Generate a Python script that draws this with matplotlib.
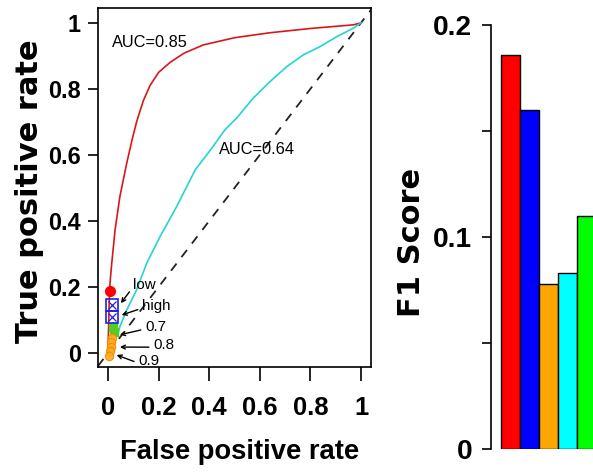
import matplotlib
matplotlib.use('Agg')
import matplotlib.pyplot as plt
from matplotlib import font_manager

# ---------------- data ----------------
roc_ticks = [0, 0.2, 0.4, 0.6, 0.8, 1.0]
roc_tick_labels = ["0", "0.2", "0.4", "0.6", "0.8", "1"]

fpr_a = [0, 0.003, 0.006, 0.010, 0.015, 0.028, 0.047, 0.074, 0.095, 0.113, 0.14,
         0.166, 0.20, 0.245, 0.30, 0.376, 0.50, 0.64, 0.80, 0.97, 1.0]
tpr_a = [0, 0.10, 0.19, 0.23, 0.273, 0.373, 0.474, 0.575, 0.645, 0.70, 0.765,
         0.81, 0.85, 0.88, 0.908, 0.933, 0.955, 0.97, 0.983, 0.994, 1.0]
auc_a = "AUC=0.85"

fpr_b = [0.04, 0.047, 0.074, 0.113, 0.153, 0.206, 0.271, 0.345, 0.41, 0.462,
         0.509, 0.574, 0.64, 0.706, 0.772, 0.838, 0.904, 0.97, 1.0]
tpr_b = [0.06, 0.08, 0.13, 0.191, 0.272, 0.353, 0.443, 0.555, 0.62, 0.676,
         0.712, 0.772, 0.822, 0.867, 0.903, 0.928, 0.958, 0.984, 1.0]
auc_b = "AUC=0.64"

chance = [0, 1]

# threshold points
pt_low_red = (0.006, 0.188)
pt_blue_x = [0.016, 0.016]
pt_blue_y = [0.144, 0.110]
pt_green_x = [0.020, 0.022]
pt_green_y = [0.078, 0.064]
pt_orange_x = [0.016, 0.013, 0.010, 0.006, 0.004]
pt_orange_y = [0.045, 0.032, 0.018, 0.005, -0.008]

ann_labels = ["low", "high", "0.7", "0.8", "0.9"]
ann_text_x = [0.099, 0.134, 0.146, 0.178, 0.119]
ann_text_y = [0.206, 0.142, 0.079, 0.024, -0.024]
ann_tip_x = [0.051, 0.054, 0.047, 0.047, 0.034]
ann_tip_y = [0.151, 0.115, 0.055, 0.018, -0.006]

f1_values = [0.186, 0.160, 0.078, 0.083, 0.110]
f1_colors = ["#FF0000", "#0000FF", "#FFA500", "#00FFFF", "#00FF00"]
f1_ticks = [0, 0.05, 0.1, 0.15, 0.2]
f1_tick_labels = ["0", "", "0.1", "", "0.2"]

# ---------------- fonts ----------------
names = {f.name for f in font_manager.fontManager.ttflist}
if 'Liberation Sans Narrow' in names:
    NARROW, ns = 'Liberation Sans Narrow', 1.0
else:
    NARROW, ns = 'Liberation Sans', 0.84

W, H = 593, 473
fig = plt.figure(figsize=(W / 100, H / 100), dpi=100)

# ---------------- ROC panel ----------------
ax = fig.add_axes([98 / W, (H - 367) / H, 273 / W, 359 / H])
ax.plot(fpr_a, tpr_a, color="#D81818", lw=1.2, zorder=3)
ax.plot(fpr_b, tpr_b, color="#22D4D4", lw=1.2, zorder=3)
ax.axline((chance[0], chance[0]), (chance[1], chance[1]), color="#222222",
          lw=1.3, ls=(0, (5, 4.5)), zorder=2)

ax.plot(*pt_low_red, 'o', color="red", ms=7, zorder=5)
ax.plot(pt_blue_x, pt_blue_y, 's', mfc='none', mec="#2020E0", ms=8, mew=1.2, zorder=5)
ax.plot(pt_blue_x, pt_blue_y, 'x', color="#2020E0", ms=6, mew=0.9, zorder=5)
ax.plot(pt_green_x, pt_green_y, 's', color="#55CC22", ms=5.5, zorder=4)
ax.plot(pt_orange_x, pt_orange_y, 'o', color="#FFAA22", mec="#F08A00", ms=6,
        mew=0.8, alpha=0.9, zorder=4)

ax.text(0.165, 0.94, auc_a, ha='center', va='center', fontsize=14 * ns,
        family=NARROW)
ax.text(0.59, 0.615, auc_b, ha='center', va='center', fontsize=14 * ns,
        family=NARROW)

for lab, tx, ty, px, py in zip(ann_labels, ann_text_x, ann_text_y, ann_tip_x, ann_tip_y):
    ax.annotate(lab, xy=(px, py), xytext=(tx, ty), ha='left', va='center',
                fontsize=13 * ns, family=NARROW, annotation_clip=False,
                clip_on=True,
                arrowprops=dict(arrowstyle='->', lw=1.0, color='black',
                                shrinkA=1, shrinkB=0, relpos=(0, 0.35),
                                mutation_scale=7))

ax.set_xlim(-0.0395, 1.0395)
ax.set_ylim(-0.0424, 1.045)
ax.set_xticks(roc_ticks)
ax.set_xticklabels(roc_tick_labels)
ax.set_yticks(roc_ticks)
ax.set_yticklabels(roc_tick_labels)
for s in ax.spines.values():
    s.set_linewidth(1.2)
ax.tick_params(axis='x', length=10, width=1.2, pad=11)
ax.tick_params(axis='y', length=7.5, width=1.2, pad=5)
for t in ax.get_xticklabels():
    t.set_family(NARROW)
    t.set_fontweight('bold')
    t.set_fontsize(22 * ns)
for t in ax.get_yticklabels():
    t.set_family(NARROW)
    t.set_fontweight('bold')
    t.set_fontsize(20 * ns)

ax.set_xlabel("False positive rate", family=NARROW, fontweight='bold',
              fontsize=23.5 * ns, va='center')
ax.xaxis.set_label_coords((240 - 98) / 273, (367 - 452) / 359)
ax.set_ylabel("True positive rate", family='DejaVu Sans', fontweight='bold',
              fontsize=22, va='center')
ax.yaxis.set_label_coords((30 - 98) / 273, 0.49)

# ---------------- F1 panel ----------------
unit = 19.0
n_units = 10
left_off = (501 - 491) / unit
bx = fig.add_axes([491 / W, (H - 449) / H, unit * n_units / W, 424 / H])
bx.bar(range(len(f1_values)), f1_values, width=1.0, align='edge',
       color=f1_colors, edgecolor='black', linewidth=1.0)
bx.set_xlim(-left_off, n_units - left_off)
bx.set_ylim(0, 0.2)
for side in ['top', 'right', 'bottom']:
    bx.spines[side].set_visible(False)
bx.spines['left'].set_linewidth(1.2)
bx.set_xticks([])
bx.set_yticks(f1_ticks)
bx.set_yticklabels(f1_tick_labels)
bx.tick_params(axis='y', length=6.5, width=1.2, pad=7)
for t in bx.get_yticklabels():
    t.set_family(NARROW)
    t.set_fontweight('bold')
    t.set_fontsize(24 * ns)
bx.set_ylabel("F1 Score", family='DejaVu Sans', fontweight='bold',
              fontsize=22, va='center')
bx.yaxis.set_label_coords((412 - 491) / (unit * n_units), (449 - 242) / 424)

fig.savefig("out.png", dpi=100)
